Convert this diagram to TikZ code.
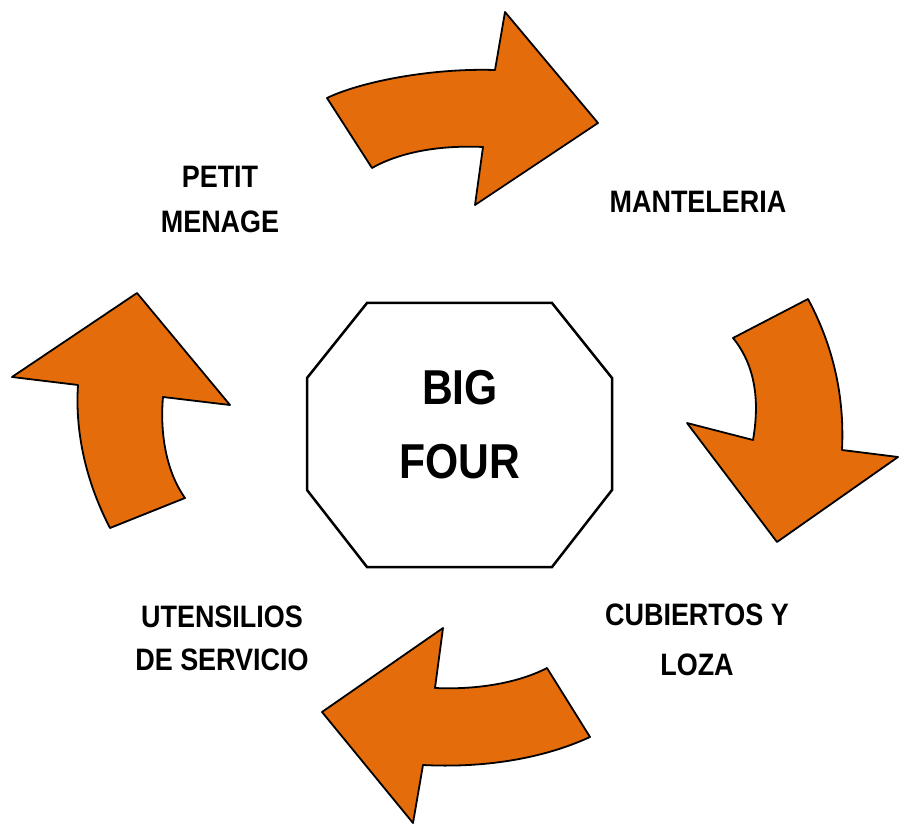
\documentclass[tikz,border=0pt]{standalone}
\usepackage{fontspec}
\newfontfamily\lblfont[FakeStretch=0.87]{Liberation Sans}
\definecolor{arroworange}{RGB}{228,108,10}
\tikzset{
  bigarrow/.style={fill=arroworange, draw=black, line width=1.8pt, line join=round},
  octa/.style={draw=black, line width=2.5pt, fill=white},
  lbl/.style={anchor=base, inner sep=0pt, font=\lblfont\bfseries\fontsize{31}{31}\selectfont},
  biglbl/.style={anchor=base, inner sep=0pt, font=\lblfont\bfseries\fontsize{49}{49}\selectfont}
}
\begin{document}
\begin{tikzpicture}[x=1pt,y=-1pt]
\useasboundingbox (0,0) rectangle (900,826);
% top arrow
\draw[bigarrow] (327,98) .. controls (360,82) and (430,68) .. (495,70) -- (505,12) -- (598,123) -- (475,205) -- (483,147) .. controls (440,145) and (400,152) .. (372,168) -- cycle;
% right arrow
\draw[bigarrow] (733,338) -- (808,299) .. controls (830,340) and (845,390) .. (842,450) -- (898,457) -- (777,542) -- (687,423) -- (753,440) .. controls (760,400) and (755,365) .. (733,338) -- cycle;
% bottom arrow
\draw[bigarrow] (547,668) -- (590,737) .. controls (540,760) and (480,768) .. (423,765) -- (413,823) -- (322,712) -- (443,628) -- (435,688) .. controls (480,690) and (520,682) .. (547,668) -- cycle;
% left arrow
\draw[bigarrow] (110,528) -- (185,498) .. controls (165,470) and (160,430) .. (163,397) -- (230,405) -- (137,293) -- (12,377) -- (78,385) .. controls (75,430) and (85,480) .. (110,528) -- cycle;
% octagon
\draw[octa] (367,303) -- (552,303) -- (612,378) -- (612,490) -- (552,567) -- (367,567) -- (307,490) -- (307,378) -- cycle;
\node[biglbl] (big) at (460,405) {BIG};
\node[biglbl] (four) at (460,478) {FOUR};
% labels
\node[lbl] (petit) at (220,188) {PETIT};
\node[lbl] (menage) at (220,233) {MENAGE};
\node[lbl] (mant) at (698,213) {MANTELERIA};
\node[lbl] (cub) at (697,625) {CUBIERTOS Y};
\node[lbl] (loza) at (697,675) {LOZA};
\node[lbl] (uten) at (222,627) {UTENSILIOS};
\node[lbl] (serv) at (222,670) {DE SERVICIO};
\end{tikzpicture}
\end{document}
